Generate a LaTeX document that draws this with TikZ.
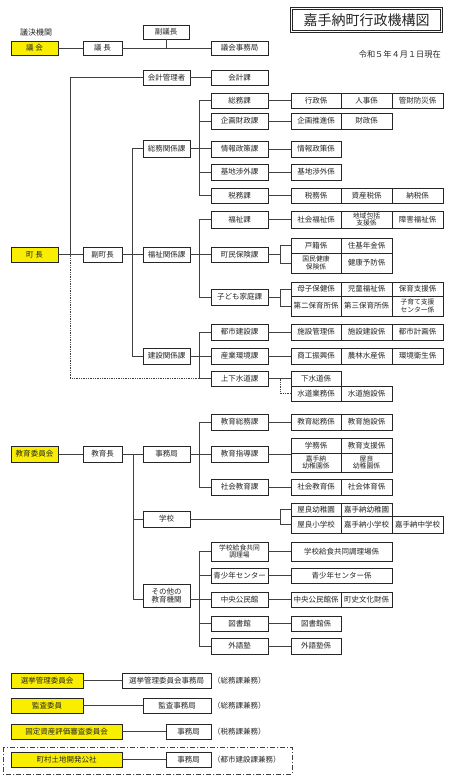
\documentclass[tikz,border=0pt]{standalone}
\usepackage{fontspec}
\setmainfont{Noto Sans CJK JP}
\definecolor{kiiro}{RGB}{250,238,0}
\tikzset{
 x=1pt,y=-1pt,
 box/.style={draw=black!85,line width=0.6pt,fill=white,inner sep=0pt,align=center,text=black!85,font=\fontsize{7.5}{8.5}\selectfont},
 ybox/.style={fill=kiiro},
 sm/.style={font=\fontsize{6.8}{7.3}\selectfont},
 conn/.style={draw=black!75,line width=0.75pt},
 lbl/.style={inner sep=0pt,text=black!85,font=\fontsize{7.5}{8.5}\selectfont},
}
\newcommand\ob[7][]{\node[box,#1,minimum width={(#5-#3)*1pt},minimum height={(#6-#4)*1pt}] (#2) at ({(#3+#5)/2},{(#4+#6)/2}) {#7};}
\begin{document}
\begin{tikzpicture}
\useasboundingbox (0,0) rectangle (456,778);
% ---------- top ----------
\node[draw=black!85,double,double distance=1.6pt,line width=0.6pt,minimum width=150.2pt,minimum height=23.2pt,inner sep=0pt,text=black!85,font=\fontsize{14}{16}\selectfont] (title) at (366.5,20) {嘉手納町行政機構図};
\node[lbl,anchor=east,font=\fontsize{8.2}{9}\selectfont] (date) at (441,54) {令和５年４月１日現在};
\node[lbl,font=\fontsize{8}{9}\selectfont] (giketsu) at (36,32) {議決機関};
\ob[ybox]{gikai}{11}{41}{58}{55}{議 会}
\ob{gicho}{83}{41}{122}{55}{議 長}
\ob{fukugicho}{143}{25}{189}{39}{副議長}
\ob{gikaijim}{211}{41}{268}{55}{議会事務局}
% ---------- mayor ----------
\ob{kaikeikanri}{143}{70}{190}{85}{会計管理者}
\ob{kaikeika}{211}{70}{268}{85}{会計課}
\ob{somuka}{211}{93}{268}{108}{総務課}
\ob{gyosei}{291}{93}{341}{108}{行政係}
\ob{jinji}{341}{93}{392}{108}{人事係}
\ob{kanzai}{392}{93}{443}{108}{管財防災係}
\ob{kikaku}{211}{113}{268}{129}{企画財政課}
\ob{kikakusuishin}{291}{113}{341}{129}{企画推進係}
\ob{zaisei}{341}{113}{392}{129}{財政係}
\ob{somukankei}{143}{140}{190}{157}{総務関係課}
\ob{joho}{211}{141}{268}{157}{情報政策課}
\ob{johok}{291}{141}{341}{157}{情報政策係}
\ob{kichi}{211}{164}{268}{180}{基地渉外課}
\ob{kichik}{291}{164}{341}{180}{基地渉外係}
\ob{zeimu}{211}{188}{268}{203}{税務課}
\ob{zeimuk}{291}{188}{341}{203}{税務係}
\ob{shisan}{341}{188}{392}{203}{資産税係}
\ob{nozei}{392}{188}{443}{203}{納税係}
\ob{fukushi}{211}{211}{268}{228}{福祉課}
\ob{shakaifuku}{291}{211}{341}{228}{社会福祉係}
\ob[sm]{chiiki}{341}{211}{392}{228}{地域包括\\支援係}
\ob{shogai}{392}{211}{443}{228}{障害福祉係}
\ob[ybox]{chocho}{11}{247}{58}{262}{町 長}
\ob{fukuchocho}{83}{247}{122}{262}{副町長}
\ob{fukushikankei}{143}{247}{190}{262}{福祉関係課}
\ob{chomin}{211}{247}{268}{262}{町民保険課}
\ob{koseki}{291}{238}{341}{253}{戸籍係}
\ob{juki}{341}{238}{392}{253}{住基年金係}
\ob[sm]{kokuho}{291}{253}{341}{273}{国民健康\\保険係}
\ob{kenko}{341}{253}{392}{273}{健康予防係}
\ob{kodomo}{211}{289}{268}{305}{子ども家庭課}
\ob{boshi}{291}{282}{341}{296}{母子保健係}
\ob{jido}{341}{282}{392}{296}{児童福祉係}
\ob{hoiku}{392}{282}{443}{296}{保育支援係}
\ob{daini}{291}{296}{341}{316}{第二保育所係}
\ob{daisan}{341}{296}{392}{316}{第三保育所係}
\ob[sm]{kosodate}{392}{296}{443}{316}{子育て支援\\センター係}
\ob{toshi}{211}{324}{268}{340}{都市建設課}
\ob{shisetsukanri}{291}{324}{341}{340}{施設管理係}
\ob{shisetsukensetsu}{341}{324}{392}{340}{施設建設係}
\ob{toshikeikaku}{392}{324}{443}{340}{都市計画係}
\ob{kensetsukankei}{143}{348}{190}{364}{建設関係課}
\ob{sangyo}{211}{348}{268}{364}{産業環境課}
\ob{shoko}{291}{348}{341}{364}{商工振興係}
\ob{norin}{341}{348}{392}{364}{農林水産係}
\ob{kankyo}{392}{348}{443}{364}{環境衛生係}
\ob{jogesui}{211}{371}{268}{386}{上下水道課}
\ob{gesui}{291}{371}{341}{386}{下水道係}
\ob{suidogyomu}{291}{386}{341}{401}{水道業務係}
\ob{suidoshisetsu}{341}{386}{392}{401}{水道施設係}
% ---------- education ----------
\ob{kyoikusomu}{211}{414}{268}{430}{教育総務課}
\ob{kyoikusomuk}{291}{414}{341}{430}{教育総務係}
\ob{kyoikushisetsu}{341}{414}{392}{430}{教育施設係}
\ob[ybox]{kyoikuiinkai}{11}{446}{58}{462}{教育委員会}
\ob{kyoikucho}{83}{446}{122}{462}{教育長}
\ob{jimukyoku}{143}{446}{190}{462}{事務局}
\ob{shido}{211}{446}{268}{462}{教育指導課}
\ob{gakumu}{291}{438}{341}{453}{学務係}
\ob{shien}{341}{438}{392}{453}{教育支援係}
\ob[sm]{kadenayo}{291}{453}{341}{472}{嘉手納\\幼稚園係}
\ob[sm]{yarayok}{341}{453}{392}{472}{屋良\\幼稚園係}
\ob{shakai}{211}{479}{268}{495}{社会教育課}
\ob{shakaik}{291}{479}{341}{495}{社会教育係}
\ob{taiiku}{341}{479}{392}{495}{社会体育係}
\ob{gakko}{143}{511}{190}{527}{学校}
\ob{yarayo}{291}{503}{341}{516}{屋良幼稚園}
\ob{kadenayoen}{341}{503}{392}{516}{嘉手納幼稚園}
\ob{yarasho}{291}{516}{341}{533}{屋良小学校}
\ob{kadenasho}{341}{516}{392}{533}{嘉手納小学校}
\ob{kadenachu}{392}{516}{443}{533}{嘉手納中学校}
\ob[sm]{kyushoku}{211}{542}{268}{561}{学校給食共同\\調理場}
\ob{kyushokuk}{291}{542}{392}{561}{学校給食共同調理場係}
\ob{seishonen}{211}{568}{268}{583}{青少年センター}
\ob{seishonenk}{291}{568}{392}{583}{青少年センター係}
\ob{sonota}{143}{584}{190}{607}{その他の\\教育機関}
\ob{kominkan}{211}{592}{268}{607}{中央公民館}
\ob{kominkank}{291}{592}{341}{607}{中央公民館係}
\ob{choshi}{341}{592}{392}{607}{町史文化財係}
\ob{tosho}{211}{616}{268}{631}{図書館}
\ob{toshok}{291}{616}{341}{631}{図書館係}
\ob{gaigo}{211}{638}{268}{654}{外語塾}
\ob{gaigok}{291}{638}{341}{654}{外語塾係}
% ---------- committees ----------
\ob[ybox]{senkyo}{11}{673}{83}{688}{選挙管理委員会}
\ob{senkyojim}{122}{673}{211}{688}{選挙管理委員会事務局}
\node[lbl,anchor=west] (kenmu1) at (213,680.5) {（総務課兼務）};
\ob[ybox]{kansa}{11}{698}{83}{713}{監査委員}
\ob{kansajim}{143}{698}{211}{713}{監査事務局}
\node[lbl,anchor=west] (kenmu2) at (213,705.5) {（総務課兼務）};
\ob[ybox]{kotei}{11}{724}{122}{739}{固定資産評価審査委員会}
\ob{koteijim}{166}{724}{211}{739}{事務局}
\node[lbl,anchor=west] (kenmu3) at (213,731.5) {（税務課兼務）};
\ob[ybox]{tochi}{11}{752}{122}{767}{町村土地開発公社}
\ob{tochijim}{166}{752}{211}{767}{事務局}
\node[lbl,anchor=west] (kenmu4) at (213,759.5) {（都市建設課兼務）};
\draw[draw=black!75,line width=0.6pt,dash pattern=on 5pt off 2pt on 1pt off 2pt] (3,747) rectangle (292,774);
% ---------- connectors ----------
\draw[conn] (gikai) -- (gicho);
\draw[conn] (gicho) -- (gikaijim);
\draw[conn] (fukugicho.south) -- (fukugicho.south |- gicho.east);
\draw[conn] (kaikeikanri) -- (kaikeika);
\coordinate (j1) at (70,254.5);
\draw[conn] (kaikeikanri.west) -| (j1);
\draw[conn] (chocho) -- (fukuchocho);
\draw[conn] (fukuchocho) -- (fukushikankei);
\draw[conn] (somukankei.west) -- ++(-10,0) |- (kensetsukankei.west);
% somu group
\draw[conn] (somukankei.east) -- (somukankei.east -| joho.west);
\draw[conn] (somuka.west) -- ++(-11,0) |- (zeimu.west);
\draw[conn] (kikaku.west) -- ++(-11,0);
\draw[conn] (kichi.west) -- ++(-11,0);
\draw[conn] (somuka) -- (gyosei);
\draw[conn] (kikaku) -- (kikakusuishin);
\draw[conn] (joho) -- (johok);
\draw[conn] (kichi) -- (kichik);
\draw[conn] (zeimu) -- (zeimuk);
% fukushi group
\draw[conn] (fukushikankei) -- (chomin);
\draw[conn] (fukushi.west) -- ++(-11,0) |- (kodomo.west);
\draw[conn] (fukushi) -- (shakaifuku);
\draw[conn] (chomin.east) -- ++(13,0);
\draw[conn] (koseki.west) -- ++(-10,0) |- (kokuho.west);
\draw[conn] (kodomo.east) -- ++(13,0);
\draw[conn] (boshi.west) -- ++(-10,0) |- (daini.west);
% kensetsu group
\draw[conn] (kensetsukankei) -- (sangyo);
\draw[conn] (toshi.west) -- ++(-11,0) |- (jogesui.west);
\draw[conn] (toshi) -- (shisetsukanri);
\draw[conn] (sangyo) -- (shoko);
\draw[conn] (jogesui) -- (gesui);
\draw[conn,densely dotted] (j1) |- ([xshift=-11pt]jogesui.west);
\draw[conn,densely dotted] ([xshift=-10pt]gesui.west) |- (suidogyomu.west);
% education
\draw[conn] (kyoikuiinkai) -- (kyoikucho);
\draw[conn] (kyoikucho) -- (jimukyoku);
\coordinate (j2) at (133,454);
\draw[conn] (j2) |- (sonota.west |- kominkan.west);
\draw[conn] (j2 |- gakko.west) -- (gakko.west);
\draw[conn] (jimukyoku) -- (shido);
\draw[conn] (kyoikusomu.west) -- ++(-11,0) |- (shakai.west);
\draw[conn] (kyoikusomu) -- (kyoikusomuk);
\draw[conn] (shido.east) -- (shido.east -| gakumu.west);
\draw[conn] (shakai) -- (shakaik);
\draw[conn] (gakko.east) -- ++(91,0);
\draw[conn] (yarayo.west) -- ++(-10,0) |- (yarasho.west);
\draw[conn] (kyushoku.west) -- ++(-11,0) |- (gaigo.west);
\draw[conn] (seishonen.west) -- ++(-11,0);
\draw[conn] (tosho.west) -- ++(-11,0);
\draw[conn] (sonota.east |- kominkan.west) -- (kominkan.west);
\draw[conn] (kyushoku) -- (kyushokuk);
\draw[conn] (seishonen) -- (seishonenk);
\draw[conn] (kominkan) -- (kominkank);
\draw[conn] (tosho) -- (toshok);
\draw[conn] (gaigo) -- (gaigok);
% committees
\draw[conn] (senkyo) -- (senkyojim);
\draw[conn] (kansa) -- (kansajim);
\draw[conn] (kotei) -- (koteijim);
\draw[conn] (tochi) -- (tochijim);
\end{tikzpicture}
\end{document}
